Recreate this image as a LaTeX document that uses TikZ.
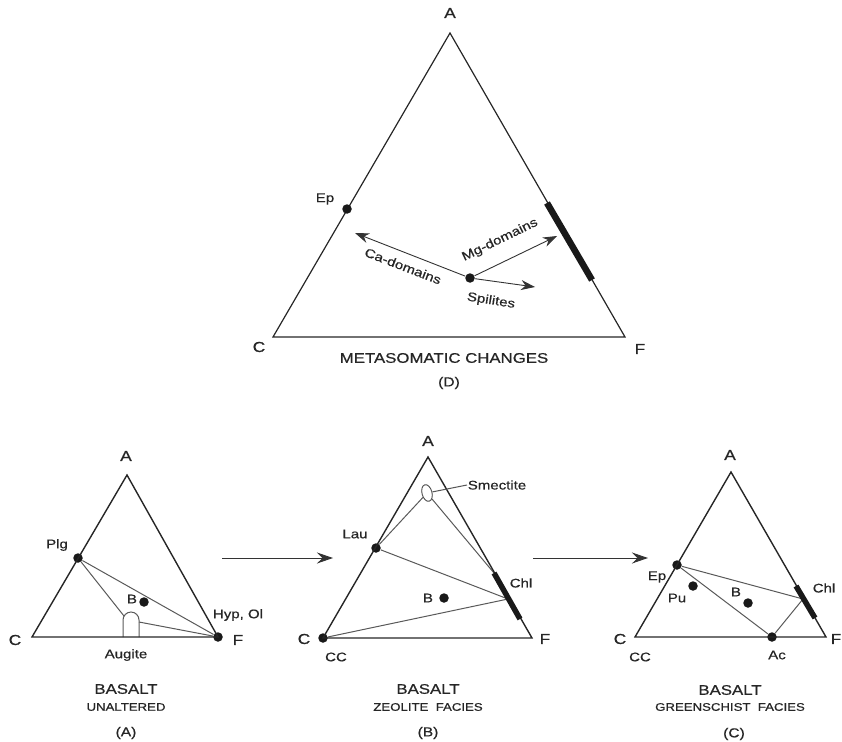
\documentclass[tikz,border=0pt]{standalone}
\usepackage{fontspec}
\setmainfont{Liberation Sans}[FakeStretch=1.2, FakeBold=0.6]
\usetikzlibrary{arrows.meta,shapes.geometric}
\tikzset{
  every picture/.style={line width=0.7pt},
  gside/.style={draw=black!85, line width=1.4pt, line join=miter},
  gtie/.style={draw=black!65, line width=1pt},
  gbar/.style={draw=black!90, line width=5.5pt},
  gdot/.style={circle, fill=black!90, inner sep=0pt, minimum size=9.5pt},
  garrow/.style={draw=black!80, line width=0.9pt,
                 -{Stealth[length=14pt, width=10pt, inset=4.5pt]}},
  gstep/.style={draw=black!80, line width=1pt,
                -{Stealth[length=16pt, width=11pt, inset=5.5pt]}},
  glabel/.style={font=\fontsize{12.5}{14}\selectfont, text=black!85, inner sep=0.5pt},
  gcorner/.style={font=\fontsize{14.5}{16}\selectfont, text=black!85, inner sep=0.5pt},
  gtitle/.style={font=\fontsize{14}{16}\selectfont, text=black!85, inner sep=0.5pt},
  gsub/.style={font=\fontsize{11}{13}\selectfont, text=black!85, inner sep=0.5pt},
  gtag/.style={font=\fontsize{13}{15}\selectfont, text=black!85, inner sep=0.5pt},
}

\begin{document}
\begin{tikzpicture}[x=1pt,y=-1pt]
  \useasboundingbox (0,0) rectangle (842,741);

  % (D) metasomatic changes
  \coordinate (dA) at (450,33);
  \coordinate (dC) at (273,337);
  \coordinate (dF) at (625,337);
  \draw[gside, line width=1.2pt] (dA) -- (dC) -- (dF) -- cycle;
  \node[gcorner] (dAl) at (450,13) {A};
  \node[gcorner] (dCl) at (259,347) {C};
  \node[gcorner] (dFl) at (640,349) {F};
  \coordinate (dbar1) at (547,203);
  \coordinate (dbar2) at (592,280);
  \draw[gbar, line width=6.5pt] (dbar1) -- (dbar2);
  \node[gdot] (dEp) at (347,209) {};
  \node[glabel] (dEpl) at (325,199) {Ep};
  \node[gdot] (dO) at (470,278) {};
  \coordinate (dCa) at (355,233);
  \coordinate (dMg) at (557,236);
  \coordinate (dSp) at (535,287);
  \draw[garrow] (dO) -- (dCa);
  \draw[garrow] (dO) -- (dMg);
  \draw[garrow] (dO) -- (dSp);
  \node[glabel, rotate=-21] (dCal) at (403,266) {Ca-domains};
  \node[glabel, rotate=26] (dMgl) at (500,240) {Mg-domains};
  \node[glabel, rotate=-9] (dSpl) at (491,301) {Spilites};
  \node[gtitle] (dT) at (444,358) {METASOMATIC CHANGES};
  \node[gtag] (dTag) at (449,383) {(D)};

  % (A) basalt, unaltered
  \coordinate (aA) at (127,475);
  \coordinate (aC) at (32,637);
  \coordinate (aF) at (218,637);
  \node[gcorner] (aAl) at (126,456) {A};
  \node[gcorner] (aCl) at (15,640) {C};
  \node[gcorner] (aFl) at (238,640) {F};
  \node[gdot] (aPlg) at (78,558) {};
  \node[gdot] (aFd) at (aF) {};
  \coordinate (augTL) at (124,616);
  \coordinate (augR) at (139,622);
  \draw[gtie] (aPlg) -- (augTL);
  \draw[gtie] (aPlg) -- (aFd);
  \draw[gtie] (augR) -- (aFd);
  % augite field: open tongue on the C--F side
  \draw[gtie] (123,637) -- (123,620) arc[start angle=180, end angle=0, radius=8pt]
        -- (139,637);
  \draw[gside] (aA) -- (aC) -- (aF) -- cycle;
  \node[gdot] (aB) at (144,602) {};
  \node[glabel] (aPlgl) at (57,545) {Plg};
  \node[glabel] (aBl) at (132,599) {B};
  \node[glabel] (aHyp) at (238,615) {Hyp, Ol};
  \node[glabel] (aAug) at (126,655) {Augite};
  \node[gtitle] (aT) at (126,689) {BASALT};
  \node[gsub] (aS) at (126,707) {UNALTERED};
  \node[gtag] (aTag) at (126,733) {(A)};

  \coordinate (s1a) at (222,558);
  \coordinate (s1b) at (333,558);
  \draw[gstep] (s1a) -- (s1b);

  % (B) basalt, zeolite facies
  \coordinate (bA) at (428,457);
  \coordinate (bC) at (323,638);
  \coordinate (bF) at (532,638);
  \node[gcorner] (bAl) at (428,441) {A};
  \node[gcorner] (bCl) at (304,639) {C};
  \node[gcorner] (bFl) at (545,639) {F};
  \coordinate (bbar1) at (494,573);
  \coordinate (bbar2) at (520,619);
  \coordinate (bChl) at (508,599);
  \node[gdot] (bLau) at (376,548) {};
  \node[gdot] (bCC) at (bC) {};
  \node[ellipse, draw=black!70, fill=white, line width=0.9pt, inner sep=0pt,
        minimum width=10pt, minimum height=17pt, rotate=15] (smec) at (427,493) {};
  \draw[gtie] (bLau) -- (smec);
  \draw[gtie] (smec) -- (bbar1);
  \draw[gtie] (bLau) -- (bChl);
  \draw[gtie] (bCC) -- (bChl);
  \draw[gside] (bA) -- (bC) -- (bF) -- cycle;
  \draw[gbar] (bbar1) -- (bbar2);
  \node[gdot] (bB) at (444,598) {};
  \node[glabel] (bSmecl) at (497,485) {Smectite};
  \draw[gtie] (smec) -- (bSmecl.west);
  \node[glabel] (bLaul) at (355,534) {Lau};
  \node[glabel] (bChll) at (521,583) {Chl};
  \node[glabel] (bBl) at (428,598) {B};
  \node[glabel] (bCCl) at (336,657) {CC};
  \node[gtitle] (bT) at (428,689) {BASALT};
  \node[gsub] (bS) at (428,707) {ZEOLITE\ \ FACIES};
  \node[gtag] (bTag) at (428,733) {(B)};

  \coordinate (s2a) at (533,558);
  \coordinate (s2b) at (648,558);
  \draw[gstep] (s2a) -- (s2b);

  % (C) basalt, greenschist facies
  \coordinate (cA) at (731,472);
  \coordinate (cC) at (635,637);
  \coordinate (cF) at (826,637);
  \node[gcorner] (cAl) at (730,455) {A};
  \node[gcorner] (cCl) at (620,639) {C};
  \node[gcorner] (cFl) at (836,639) {F};
  \coordinate (cbar1) at (796,586);
  \coordinate (cbar2) at (815,618);
  \coordinate (cChl) at (803,599);
  \node[gdot] (cEp) at (677,565) {};
  \node[gdot] (cAc) at (772,637) {};
  \draw[gtie] (cEp) -- (cChl);
  \draw[gtie] (cEp) -- (cAc);
  \draw[gtie] (cAc) -- (cChl);
  \draw[gside] (cA) -- (cC) -- (cF) -- cycle;
  \draw[gbar] (cbar1) -- (cbar2);
  \node[gdot] (cPu) at (693,586) {};
  \node[gdot] (cB) at (748,603) {};
  \node[glabel] (cEpl) at (657,577) {Ep};
  \node[glabel] (cPul) at (677,598) {Pu};
  \node[glabel] (cBl) at (736,592) {B};
  \node[glabel] (cAcl) at (777,655) {Ac};
  \node[glabel] (cChll) at (824,588) {Chl};
  \node[glabel] (cCCl) at (640,657) {CC};
  \node[gtitle] (cT) at (730,690) {BASALT};
  \node[gsub] (cS) at (730,707) {GREENSCHIST\ \ FACIES};
  \node[gtag] (cTag) at (734,734) {(C)};
\end{tikzpicture}
\end{document}
